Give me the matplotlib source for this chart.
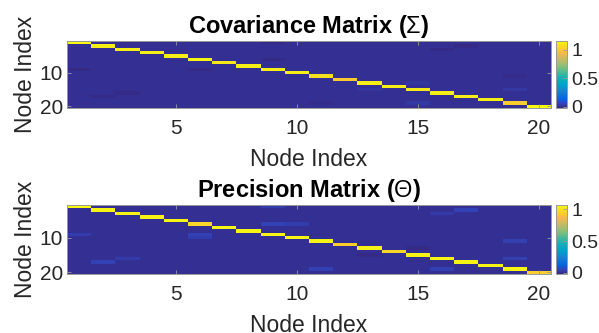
import numpy as np
import matplotlib
matplotlib.use("Agg")
import matplotlib.pyplot as plt
from matplotlib.colors import LinearSegmentedColormap

# ---- data ----
n_nodes = 20
cov_diag = [1.15, 1.12, 1.12, 1.12, 1.12, 1.13, 1.10, 1.12, 1.12, 1.12,
            1.08, 1.00, 1.12, 1.12, 1.10, 1.12, 1.12, 1.12, 1.02, 1.15]
prec_diag = [1.07, 1.05, 1.05, 1.05, 1.05, 0.98, 1.05, 1.05, 1.05, 1.05,
             1.05, 0.95, 1.05, 0.97, 1.05, 1.05, 1.05, 1.05, 1.06, 0.95]
# off-diagonal entries (row, col, value), 1-based, symmetric
cov_rows = [1, 2, 3, 6, 11, 13, 15]
cov_cols = [9, 17, 16, 9, 19, 15, 19]
cov_vals = [-0.02, -0.02, -0.02, -0.02, -0.015, 0.02, 0.025]
prec_rows = [1, 2, 3, 6, 6, 11, 16, 13]
prec_cols = [9, 17, 16, 9, 10, 19, 19, 15]
prec_vals = [0.035, 0.045, 0.03, 0.045, 0.035, 0.04, 0.04, -0.02]
titles = ["Covariance Matrix ($\\Sigma$)", "Precision Matrix ($\\Theta$)"]
xticks = [5, 10, 15, 20]
yticks = [10, 20]
cbar_ticks = [0, 0.5, 1]

# parula (approximate anchors)
parula_pts = [
    (0.2081, 0.1663, 0.5292), (0.1959, 0.2645, 0.7279), (0.0117, 0.3875, 0.8820),
    (0.0498, 0.4586, 0.8641), (0.0793, 0.5200, 0.8312), (0.0343, 0.5966, 0.8199),
    (0.0228, 0.6535, 0.7768), (0.0843, 0.6928, 0.7062), (0.2178, 0.7250, 0.6193),
    (0.3953, 0.7459, 0.5244), (0.5709, 0.7485, 0.4494), (0.7184, 0.7411, 0.3905),
    (0.8507, 0.7299, 0.3360), (0.9739, 0.7314, 0.2666), (0.9880, 0.8066, 0.1794),
    (0.9589, 0.8949, 0.1132), (0.9763, 0.9831, 0.0538)]
pos = [0, 4, 8, 12, 16, 20, 24, 28, 32, 36, 40, 44, 48, 52, 56, 60, 63]
parula = LinearSegmentedColormap.from_list(
    "parula", [(p / 63, c) for p, c in zip(pos, parula_pts)])


def build(diag, rows, cols, vals):
    m = np.diag(np.array(diag, dtype=float))
    for r, c, v in zip(rows, cols, vals):
        m[r - 1, c - 1] = v
        m[c - 1, r - 1] = v
    return m


mats = [build(cov_diag, cov_rows, cov_cols, cov_vals),
        build(prec_diag, prec_rows, prec_cols, prec_vals)]

plt.rcParams['font.family'] = ['Liberation Sans', 'DejaVu Sans']
plt.rcParams['mathtext.fontset'] = 'custom'
plt.rcParams['mathtext.rm'] = 'Liberation Sans'
plt.rcParams['mathtext.bf'] = 'Liberation Sans:bold'

W, H = 599, 333
fig = plt.figure(figsize=(W / 100, H / 100), dpi=100)

tick_col = '#262626'
edge_col = '#9a9a9a'
axes_px = [(67.3, 41, 550.7, 107.7), (67.3, 205, 550.7, 274)]
for mat, title, (l, t, r, b) in zip(mats, titles, axes_px):
    ax = fig.add_axes([l / W, 1 - b / H, (r - l) / W, (b - t) / H])
    im = ax.imshow(mat, cmap=parula, aspect='auto', interpolation='nearest',
                   extent=(0.5, n_nodes + 0.5, n_nodes + 0.5, 0.5),
                   vmin=mat.min(), vmax=mat.max())
    ax.set_xticks(xticks)
    ax.set_yticks(yticks)
    ax.tick_params(direction='in', length=3, width=0.6, colors=edge_col,
                   labelcolor=tick_col, labelsize=15, top=True, right=True)
    ax.tick_params(axis='x', pad=8)
    ax.tick_params(axis='y', pad=3)
    for s in ax.spines.values():
        s.set_color(edge_col)
        s.set_linewidth(0.7)
    ax.set_title(title, fontsize=17, fontweight='bold', color='black', pad=6)
    ax.set_xlabel("Node Index", fontsize=16.5, color=tick_col, labelpad=7)
    ax.set_ylabel("Node Index", fontsize=16.5, color=tick_col, labelpad=2)
    cax = fig.add_axes([556 / W, 1 - b / H, 11.3 / W, (b - t) / H])
    cb = fig.colorbar(im, cax=cax, ticks=cbar_ticks)
    cb.ax.set_yticklabels(['0', '0.5', '1'])
    cb.outline.set_edgecolor(edge_col)
    cb.outline.set_linewidth(0.7)
    cb.ax.tick_params(direction='in', length=3, width=0.6, colors=edge_col,
                      labelcolor=tick_col, labelsize=14, pad=3)

fig.savefig("out.png", dpi=100)
